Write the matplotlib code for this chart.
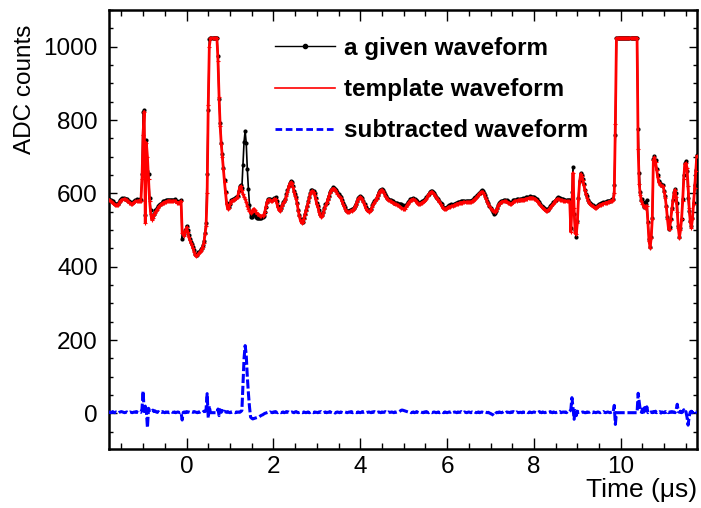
import numpy as np
import matplotlib
matplotlib.use("Agg")
import matplotlib.pyplot as plt
from matplotlib.lines import Line2D
from matplotlib.ticker import MultipleLocator

plt.rcParams['font.family'] = ['Liberation Sans', 'DejaVu Sans']

# ---------------- data (ADC counts, sampled every 0.025 us from -1.8 us) ----------------
t_start_us = -1.8
dt_us = 0.025

template_rows = [
    [583, 582, 579, 576, 573, 571, 569, 568, 567, 569, 573, 578, 581, 583, 584, 584, 583, 581, 578, 575],
    [573, 572, 572, 574, 576, 578, 579, 579, 579, 580, 580, 640, 760, 823, 520, 738, 700, 640, 580, 545],
    [528, 532, 540, 547, 552, 556, 561, 565, 568, 571, 573, 575, 576, 577, 578, 579, 580, 579, 578, 578],
    [579, 580, 578, 575, 573, 574, 577, 578, 493, 488, 484, 498, 507, 496, 482, 473, 466, 459, 450, 441],
    [432, 429, 431, 435, 439, 442, 448, 455, 465, 488, 510, 600, 840, 1000, 1023, 1023, 1023, 1023, 1023, 1023],
    [1023, 962, 862, 783, 735, 700, 666, 630, 600, 570, 557, 560, 570, 578, 580, 581, 583, 585, 587, 590],
    [603, 617, 619, 608, 598, 591, 585, 577, 566, 558, 551, 546, 549, 555, 558, 554, 548, 545, 543, 541],
    [539, 538, 539, 541, 548, 562, 575, 582, 583, 581, 579, 579, 581, 585, 584, 575, 563, 555, 552, 558],
    [566, 573, 577, 582, 592, 605, 617, 626, 630, 628, 618, 605, 594, 585, 570, 552, 537, 525, 519, 521],
    [530, 542, 553, 563, 575, 588, 598, 605, 607, 604, 596, 584, 570, 563, 550, 540, 535, 537, 546, 557],
    [566, 573, 582, 591, 600, 607, 611, 613, 613, 610, 605, 599, 594, 590, 587, 580, 572, 565, 558, 553],
    [550, 549, 549, 551, 553, 555, 557, 562, 569, 577, 584, 588, 590, 588, 583, 576, 568, 560, 554, 551],
    [550, 551, 556, 563, 570, 575, 580, 586, 593, 600, 605, 608, 609, 606, 600, 594, 589, 585, 582, 580],
    [578, 576, 575, 573, 571, 570, 569, 567, 565, 563, 561, 558, 557, 558, 562, 567, 572, 576, 580, 582],
    [583, 584, 582, 579, 575, 572, 571, 571, 573, 575, 577, 578, 581, 586, 592, 597, 601, 603, 604, 602],
    [598, 593, 589, 585, 582, 577, 571, 566, 561, 558, 557, 558, 560, 562, 563, 564, 565, 566, 567, 568],
    [570, 571, 572, 573, 574, 575, 575, 576, 576, 576, 576, 576, 576, 576, 576, 578, 580, 583, 586, 588],
    [592, 596, 600, 603, 604, 603, 598, 591, 584, 577, 571, 565, 560, 556, 553, 551, 550, 552, 558, 565],
    [571, 574, 576, 577, 578, 578, 578, 577, 575, 573, 571, 571, 573, 576, 578, 579, 580, 581, 581, 582],
    [582, 583, 583, 583, 584, 585, 586, 587, 588, 588, 588, 587, 586, 585, 583, 580, 576, 572, 568, 564],
    [560, 557, 555, 553, 553, 554, 557, 561, 565, 568, 572, 577, 581, 584, 585, 584, 583, 582, 581, 580],
    [580, 579, 579, 578, 578, 576, 495, 560, 656, 560, 492, 488, 520, 585, 630, 653, 648, 636, 622, 608],
    [597, 588, 580, 574, 570, 567, 565, 562, 560, 561, 563, 565, 567, 568, 569, 571, 572, 573, 574, 575],
    [576, 577, 578, 579, 580, 582, 600, 790, 1023, 1023, 1023, 1023, 1023, 1023, 1023, 1023, 1023, 1023, 1023, 1023],
    [1023, 1023, 1023, 1023, 1023, 1023, 1023, 1023, 720, 625, 595, 580, 572, 565, 560, 566, 565, 520, 470, 452],
    [478, 530, 690, 698, 685, 665, 645, 630, 624, 622, 620, 619, 605, 588, 562, 530, 502, 503, 528, 555],
    [580, 600, 610, 590, 550, 505, 479, 500, 529, 580, 640, 680, 682, 670, 620, 560, 522, 506, 530, 570, 615, 660, 701],
]

subtracted_rows = [
    [3, 4, 2, 3, 5, 3, 2, 4, 3, 1, 3, 4, 5, 4, 3, 2, 3, 4, 2, 3],
    [4, 3, 2, 3, 4, 3, 5, 3, 2, 4, 3, 12, 61, 5, 20, 8, -39, 14, 8, 10],
    [6, 9, 5, 7, 4, 3, 5, 2, 4, 3, 5, 3, 2, 4, 3, 4, 2, 3, 5, 3],
    [3, 4, 2, 3, 4, 3, 2, 3, -18, 3, 4, 2, 5, 3, 4, 3, 2, 4, 3, 5],
    [4, 3, 2, 4, 3, 5, 4, 3, 6, 5, 10, 54, -12, 20, 2, 2, 2, 2, 2, 2],
    [2, 12, -6, 10, 3, 8, 2, 6, 4, 3, 5, 3, 2, 4, 3, 4, 3, 2, 4, 3],
    [4, 3, 5, 8, 80, 150, 185, 160, 100, 55, 18, -10, -13, -15, -14, -13, -12, -11, -10, -9],
    [-7, -5, -4, -2, 0, 1, 2, 3, 2, 4, 3, 2, 4, 3, 5, 3, 2, 4, 3, 2],
    [3, 4, 2, 3, 5, 3, 4, 2, 3, 4, 3, 2, 4, 5, 3, 2, 3, 4, 3, 2],
    [4, 3, 2, 3, 4, 2, 3, 5, 3, 2, 4, 3, 3, 2, 4, 3, 5, 3, 2, 3],
    [4, 2, 3, 3, 5, 3, 2, 4, 3, 1, 3, 4, 3, 2, 4, 3, 2, 3, 4, 3],
    [2, 3, 4, 3, 5, 2, 3, 4, 3, 2, 4, 3, 2, 3, 5, 3, 4, 2, 3, 3],
    [4, 3, 2, 4, 3, 5, 3, 2, 3, 4, 3, 2, 4, 3, 3, 5, 3, 2, 4, 3],
    [3, 4, 3, 2, 4, 3, 4, 5, 5, 7, 9, 9, 8, 7, 6, 5, 4, 3, 4, 2],
    [3, 4, 2, 3, 5, 3, 2, 4, 3, 3, 2, 4, 3, 5, 3, 2, 4, 3, 2, 3],
    [4, 3, 2, 3, 4, 2, 3, 5, 3, 2, 4, 3, 2, 3, 4, 3, 5, 2, 3, 4],
    [3, 2, 4, 3, 3, 5, 3, 2, 4, 3, 2, 3, 4, 3, 2, 4, 3, 5, 3, 2],
    [3, 4, 2, 3, 4, 3, 2, 4, 3, 2, 3, 1, 0, -2, -3, -6, -4, 1, 3, 2],
    [4, 3, 2, 3, 5, 3, 2, 4, 3, 3, 2, 4, 3, 5, 3, 2, 4, 3, 2, 3],
    [3, 2, 4, 3, 3, 5, 3, 2, 4, 3, 2, 3, 4, 3, 2, 4, 3, 5, 3, 2],
    [4, 3, 2, 3, 4, 2, 3, 5, 3, 2, 4, 3, 2, 3, 4, 3, 5, 2, 3, 4],
    [3, 4, 2, 5, 3, 6, 10, 43, 15, -16, 8, -6, 6, 3, 4, 2, 3, 4, 3, 2],
    [2, 4, 3, 3, 5, 3, 2, 4, 3, 2, 3, 4, 3, 2, 4, 3, 5, 3, 2, 3],
    [4, 3, 2, 3, 4, 3, 22, -30, 2, 2, 2, 2, 2, 2, 2, 2, 2, 2, 2, 2],
    [2, 2, 2, 2, 2, 2, 2, 2, 55, 30, 8, 3, 12, -3, 16, 4, 18, 2, 5, 3],
    [4, 2, 5, 3, 6, 2, 4, 3, 5, 1, 4, 3, 2, 5, 3, 6, 2, 4, 3, 5],
    [3, 4, 2, 10, 25, 5, 3, 6, 2, 4, 10, 3, 5, -10, -32, -8, 4, 6, 2, 5, 8, 3, 4],
]

legend_labels = ["a given waveform", "template waveform", "subtracted waveform"]
x_title = "Time (\u03bcs)"
y_title = "ADC counts"

template = np.concatenate([np.array(r, float) for r in template_rows])
subtracted = np.concatenate([np.array(r, float) for r in subtracted_rows])
given = template + subtracted
time_us = t_start_us + dt_us * np.arange(len(template))

# ---------------- figure ----------------
W, H = 701, 508
fig = plt.figure(figsize=(W / 100, H / 100), dpi=100)
L, R, T, B = 109, 697, 10, 449
ax = fig.add_axes([L / W, 1 - B / H, (R - L) / W, (B - T) / H])

ax.plot(time_us, given, color='black', lw=1.2, marker='o', ms=3.0, mew=0, zorder=2)
ax.plot(time_us, template, color='red', lw=2.0, marker='+', ms=3, mew=0.8, zorder=3)
ax.plot(time_us, subtracted, color='blue', lw=2.2, ls=(0, (3.0, 0.9)), zorder=4)

ax.set_xlim(-1.785, 11.755)
ax.set_ylim(-97, 1100)

ax.xaxis.set_major_locator(MultipleLocator(2))
ax.xaxis.set_minor_locator(MultipleLocator(0.5))
ax.yaxis.set_major_locator(MultipleLocator(200))
ax.yaxis.set_minor_locator(MultipleLocator(50))

ax.tick_params(which='both', direction='in', top=True, right=True, width=1.0, colors='black')
ax.tick_params(axis='x', which='major', length=8, labelsize=17.5, pad=5)
ax.tick_params(axis='x', which='minor', length=4)
ax.tick_params(axis='y', which='major', length=6, labelsize=17.5, pad=8)
ax.tick_params(axis='y', which='minor', length=3)
for s in ax.spines.values():
    s.set_linewidth(1.8)

fig.text(25 / W, 1 - 25 / H, y_title, rotation=90, ha='center', va='top', fontsize=17.5)
fig.text(697 / W, 1 - 490 / H, x_title, ha='right', va='center', fontsize=19)

handles = [
    Line2D([], [], color='black', lw=1.0, marker='o', ms=3),
    Line2D([], [], color='red', lw=1.2),
    Line2D([], [], color='blue', lw=2.0, ls=(0, (2.4, 1.3))),
]
leg = fig.legend(handles, legend_labels, loc='upper left',
                 bbox_to_anchor=(275 / W, 1 - 37 / H), frameon=False,
                 prop={'weight': 'bold', 'size': 17.5}, handlelength=2.45,
                 handletextpad=0.4, labelspacing=0.75, borderpad=0,
                 borderaxespad=0, numpoints=1)

fig.savefig("out.png", dpi=100)
